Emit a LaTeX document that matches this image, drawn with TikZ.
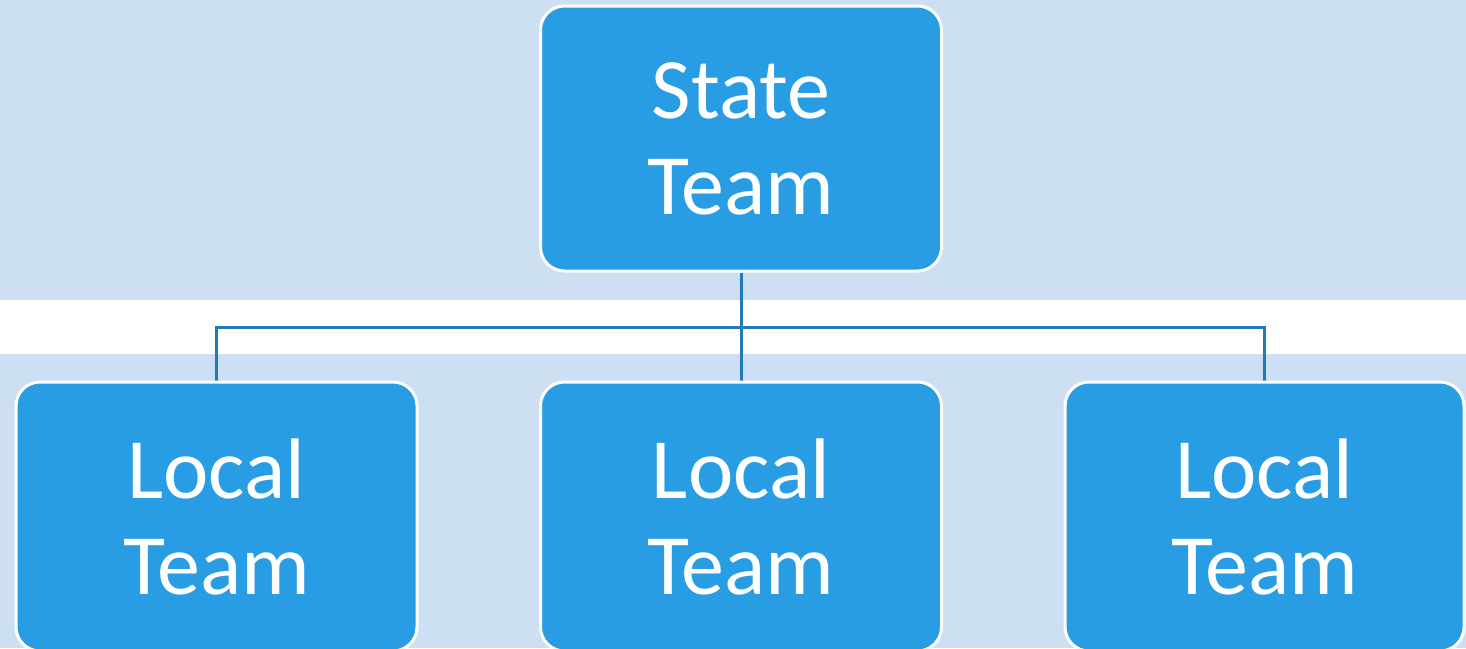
\documentclass[tikz,border=0pt]{standalone}
\usepackage{fontspec}
\setmainfont{Carlito}
\definecolor{bandblue}{HTML}{CCDFF3}
\definecolor{boxblue}{HTML}{289DE3}
\definecolor{linkblue}{HTML}{1F7BBA}
\pgfdeclarelayer{bands}
\pgfdeclarelayer{links}
\pgfsetlayers{bands,links,main}
\tikzset{
  teambox/.style={draw=white, line width=3pt, fill=boxblue, rounded corners=24pt,
    minimum width=401pt, minimum height=265pt, inner sep=0pt, text=white,
    align=center, font=\fontsize{86}{96}\selectfont},
  localbox/.style={teambox, minimum height=269pt},
  link/.style={draw=linkblue, line width=3pt}
}
\begin{document}
\begin{tikzpicture}[x=1pt,y=-1pt]
\useasboundingbox (0,0) rectangle (1466,648);
\clip (0,0) rectangle (1466,648);
\node[teambox] (state) at (741,138.5) {State\\Team};
\node[localbox] (l1) at (216.5,516.5) {Local\\Team};
\node[localbox] (l2) at (741,516.5) {Local\\Team};
\node[localbox, minimum width=399pt] (l3) at (1264.5,516.5) {Local\\Team};
\coordinate (bus) at (741,327);
\begin{pgfonlayer}{bands}
\fill[bandblue] (0,0) rectangle (1466,300);
\fill[bandblue] (0,354) rectangle (1466,648);
\end{pgfonlayer}
\begin{pgfonlayer}{links}
\draw[link] (state.south) -- (bus);
\draw[link] (l1.north) |- (bus) -| (l3.north);
\draw[link] (bus) -- (l2.north);
\end{pgfonlayer}
\end{tikzpicture}
\end{document}
